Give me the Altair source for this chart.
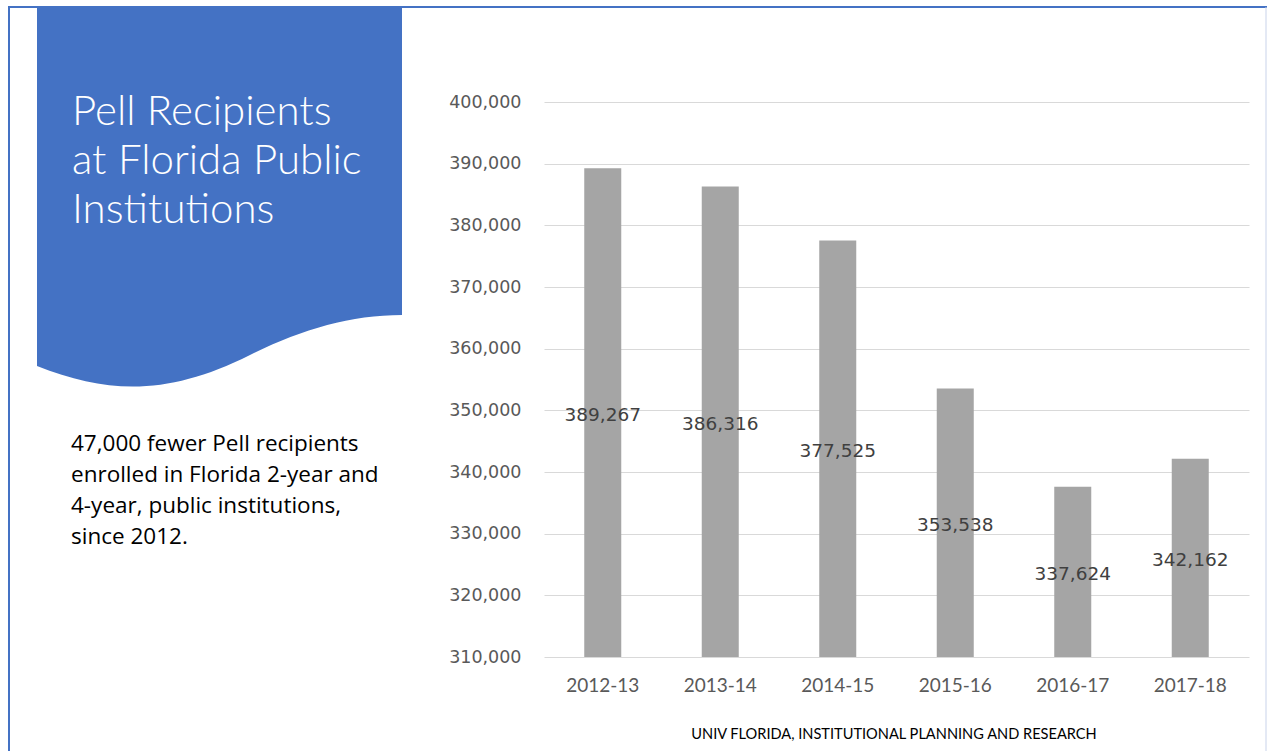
import altair as alt
import pandas as pd

# ---- data ----
years = ["2012-13", "2013-14", "2014-15", "2015-16", "2016-17", "2017-18"]
recipients = [389267, 386316, 377525, 353538, 337624, 342162]
y_ticks = [310000, 320000, 330000, 340000, 350000, 360000, 370000, 380000, 390000, 400000]
AXIS_MIN = 310000
AXIS_MAX = 400000

title_lines = ["Pell Recipients", "at Florida Public", "Institutions"]
body_lines = [
    "47,000 fewer Pell recipients",
    "enrolled in Florida 2-year and",
    "4-year, public institutions,",
    "since 2012.",
]
footer_text = "UNIV FLORIDA, INSTITUTIONAL PLANNING AND RESEARCH"

BLUE = "#4472c4"
df = pd.DataFrame({"year": years, "value": recipients})
one = pd.DataFrame({"k": [0]})

x_axis = alt.Axis(
    title=None, labelAngle=0, domain=False, ticks=False,
    labelFont="Lato", labelFontSize=19, labelColor="#595959", labelPadding=19,
)
y_axis = alt.Axis(
    title=None, values=y_ticks, format=",d", grid=True, gridColor="#d9d9d9",
    gridWidth=1, domain=False, ticks=False, labelPadding=23,
    labelFont="DejaVu Sans", labelFontSize=17.5, labelColor="#595959",
)
x_scale = alt.Scale(paddingInner=0, paddingOuter=0)
y_scale = alt.Scale(domain=[AXIS_MIN, AXIS_MAX], zero=False, nice=False)

bars = alt.Chart(df).mark_bar(size=37, color="#a5a5a5").encode(
    x=alt.X("year:N", sort=years, scale=x_scale, axis=x_axis),
    y=alt.Y("value:Q", scale=y_scale, axis=y_axis),
    y2=alt.datum(AXIS_MIN),
)

labels = (
    alt.Chart(df)
    .transform_calculate(mid=f"(datum.value + {AXIS_MIN}) / 2")
    .mark_text(font="DejaVu Sans", fontSize=18.5, color="#404040", baseline="middle", dy=2)
    .encode(
        x=alt.X("year:N", sort=years, scale=x_scale, axis=x_axis),
        y=alt.Y("mid:Q", scale=y_scale, axis=y_axis),
        text=alt.Text("value:Q", format=","),
    )
)

# ---- slide decorations (pixel positions relative to the plot origin) ----
banner_path = (
    "M -1.63 -1.92 L 2.02 -1.92 L 2.02 1.15 "
    "C 1.5 1.15 1.0 1.3 0.5 1.55 "
    "C -0.3 1.95 -0.9 1.95 -1.63 1.66 Z"
)
banner = alt.Chart(one).mark_point(
    shape=banner_path, filled=True, fill=BLUE, opacity=1, size=40000, strokeWidth=0
).encode(x=alt.value(-344), y=alt.value(98))

title = alt.Chart(one).mark_text(
    text=title_lines, font="Lato", fontWeight=300, fontSize=42, color="white",
    align="left", baseline="alphabetic", lineHeight=49,
).encode(x=alt.value(-472), y=alt.value(23))

body = alt.Chart(one).mark_text(
    text=body_lines, font="Open Sans", fontSize=22.5, color="#000000",
    align="left", baseline="alphabetic", lineHeight=31,
).encode(x=alt.value(-473), y=alt.value(349))

footer = alt.Chart(one).mark_text(
    text=footer_text, font="Lato", fontSize=14.6, color="#000000",
    align="center", baseline="alphabetic",
).encode(x=alt.value(350), y=alt.value(637))

top_border = alt.Chart(one).mark_rule(color=BLUE, strokeWidth=2).encode(
    x=alt.value(-536), x2=alt.value(723), y=alt.value(-95)
)
left_border = alt.Chart(one).mark_rule(color=BLUE, strokeWidth=2).encode(
    x=alt.value(-535), y=alt.value(-95), y2=alt.value(649)
)
right_border = alt.Chart(one).mark_rule(color="#c9d3ea", strokeWidth=1).encode(
    x=alt.value(722), y=alt.value(-95), y2=alt.value(649)
)

chart = (
    alt.layer(bars, labels, banner, title, body, footer, top_border, left_border, right_border)
    .properties(
        width=705,
        height=555,
        autosize=alt.AutoSizeParams(type="none"),
        padding={"left": 544, "top": 102, "right": 18, "bottom": 94},
        background="white",
    )
    .configure_view(stroke=None)
)

chart.save("out.html", embed_options={"renderer": "svg", "actions": False})
